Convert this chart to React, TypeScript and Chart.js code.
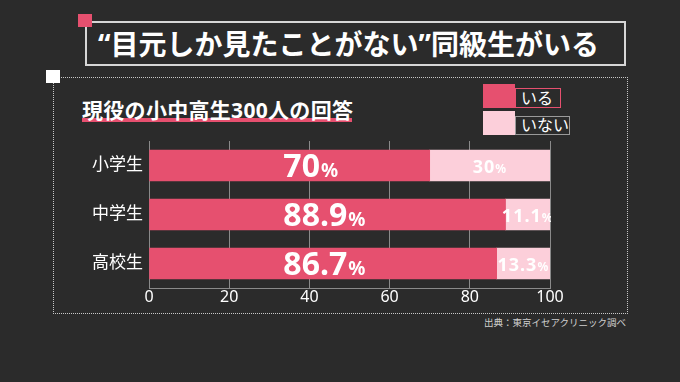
import React, { useEffect, useRef } from "react";
import { Chart, registerables } from "chart.js";

Chart.register(...registerables);

const categories = ["小学生", "中学生", "高校生"];
const yesValues = [70, 88.9, 86.7];
const noValues = [30, 11.1, 13.3];
const yesLabels = ["70", "88.9", "86.7"];
const noLabels = ["30", "11.1", "13.3"];
const xTicks = [0, 20, 40, 60, 80, 100];
const seriesNames = ["いる", "いない"];

const TITLE = "“目元しか見たことがない”同級生がいる";
const SUBTITLE = "現役の小中高生300人の回答";
const SOURCE = "出典：東京イセアクリニック調べ";

const PINK = "#e6506f";
const LIGHT = "#fccfda";
const BG = "#2b2b2b";
const JP = "'Noto Sans', 'Noto Sans CJK JP', sans-serif";
const NUM = "'Noto Sans', sans-serif";
const BIG_LABEL_ANCHOR = 33.5;

const labelPlugin = {
  id: "barLabels",
  afterDatasetsDraw(chart: any) {
    const ctx = chart.ctx;
    const xs = chart.scales.x;
    const area = chart.chartArea;
    ctx.save();
    ctx.fillStyle = "#ffffff";
    ctx.textBaseline = "alphabetic";
    ctx.textAlign = "left";
    const m0 = chart.getDatasetMeta(0);
    m0.data.forEach((bar: any, i: number) => {
      const x0 = xs.getPixelForValue(BIG_LABEL_ANCHOR);
      const y = bar.y + 11;
      ctx.font = `bold 32px ${NUM}`;
      ctx.fillText(yesLabels[i], x0, y);
      const w = ctx.measureText(yesLabels[i]).width;
      ctx.font = `bold 19px ${NUM}`;
      ctx.fillText("%", x0 + w + 1, y);
    });
    ctx.beginPath();
    ctx.rect(area.left, area.top, area.right - area.left + 1, area.bottom - area.top);
    ctx.clip();
    const m1 = chart.getDatasetMeta(1);
    m1.data.forEach((bar: any, i: number) => {
      const left = bar.base;
      const right = bar.x;
      const cx = (left + right) / 2;
      const y = bar.y + 7;
      (ctx as any).letterSpacing = "1px";
      ctx.font = `bold 18px ${NUM}`;
      const w1 = ctx.measureText(noLabels[i]).width;
      ctx.font = `bold 12px ${NUM}`;
      const w2 = ctx.measureText("%").width;
      const start = cx - (w1 + w2) / 2;
      ctx.font = `bold 18px ${NUM}`;
      ctx.fillText(noLabels[i], start, y);
      ctx.font = `bold 12px ${NUM}`;
      ctx.fillText("%", start + w1, y);
      (ctx as any).letterSpacing = "0px";
    });
    ctx.restore();
  },
};

export default function App() {
  const ref = useRef<HTMLCanvasElement>(null);
  useEffect(() => {
    if (!ref.current) return;
    const chart = new Chart(ref.current, {
      type: "bar",
      data: {
        labels: categories,
        datasets: [
          { label: seriesNames[0], data: yesValues, backgroundColor: PINK, barThickness: 31 },
          { label: seriesNames[1], data: noValues, backgroundColor: LIGHT, barThickness: 31 },
        ],
      },
      options: {
        indexAxis: "y",
        responsive: false,
        animation: false,
        devicePixelRatio: 1,
        layout: { padding: { left: 0, right: 130, top: 141, bottom: 74 } },
        plugins: { legend: { display: false }, tooltip: { enabled: false } },
        scales: {
          x: {
            stacked: true,
            min: 0,
            max: 100,
            afterBuildTicks: (s: any) => {
              s.ticks = xTicks.map((v) => ({ value: v }));
            },
            afterFit: (s: any) => {
              s.height = 20;
            },
            ticks: { color: "#ffffff", font: { family: NUM, size: 16 }, padding: 0 },
            grid: { color: "#8a8a8a", lineWidth: 1, drawTicks: false },
            border: { color: "#8a8a8a" },
          },
          y: {
            stacked: true,
            afterFit: (s: any) => {
              s.width = 149;
            },
            ticks: { color: "#ffffff", font: { family: JP, size: 17 }, padding: 6 },
            grid: { display: false, drawTicks: false },
            border: { display: false },
          },
        },
      },
      plugins: [labelPlugin],
    } as any);
    return () => chart.destroy();
  }, []);

  const abs = (o: any): React.CSSProperties => ({ position: "absolute", ...o });

  return (
    <div style={{ position: "fixed", left: 0, top: 0, width: 680, height: 382, background: BG, overflow: "hidden", fontFamily: JP }}>
      <div style={abs({ left: 53, top: 77, width: 573, height: 235, border: "1px dotted #c8c8c8" })} />
      <div style={abs({ left: 46, top: 70, width: 14, height: 13, background: "#ffffff" })} />
      <div style={abs({ left: 85, top: 21, width: 537, height: 41, border: "2px solid #d6d6d6", display: "flex", alignItems: "center" })}>
        <span style={{ marginLeft: 11, color: "#ffffff", fontWeight: 700, fontSize: 28, letterSpacing: 0, whiteSpace: "nowrap", lineHeight: 1 }}>{TITLE}</span>
      </div>
      <div style={abs({ left: 78, top: 14, width: 14, height: 13, background: PINK })} />
      <div style={abs({ left: 82, top: 118, width: 270, height: 4, background: PINK })} />
      <div style={abs({ left: 82, top: 97, color: "#ffffff", fontWeight: 700, fontSize: 21, lineHeight: "26px", whiteSpace: "nowrap", letterSpacing: 0.3 })}>{SUBTITLE}</div>
      <div style={abs({ left: 483, top: 84, width: 32, height: 24, background: PINK })} />
      <div style={abs({ left: 515, top: 88, width: 39, height: 18, border: `1px solid ${PINK}`, color: "#fff", fontSize: 16, lineHeight: "18px", paddingLeft: 5, boxSizing: "content-box", whiteSpace: "nowrap" })}>{seriesNames[0]}</div>
      <div style={abs({ left: 483, top: 111, width: 32, height: 24, background: LIGHT })} />
      <div style={abs({ left: 515, top: 116, width: 48, height: 17, border: "1px solid #9a9a9a", color: "#fff", fontSize: 16, lineHeight: "17px", paddingLeft: 5, whiteSpace: "nowrap" })}>{seriesNames[1]}</div>
      <div style={abs({ right: 54, top: 316, color: "#cfcfcf", fontSize: 9.5, lineHeight: "14px", whiteSpace: "nowrap" })}>{SOURCE}</div>
      <canvas ref={ref} width={680} height={382} style={abs({ left: 0, top: 0 })} />
    </div>
  );
}
